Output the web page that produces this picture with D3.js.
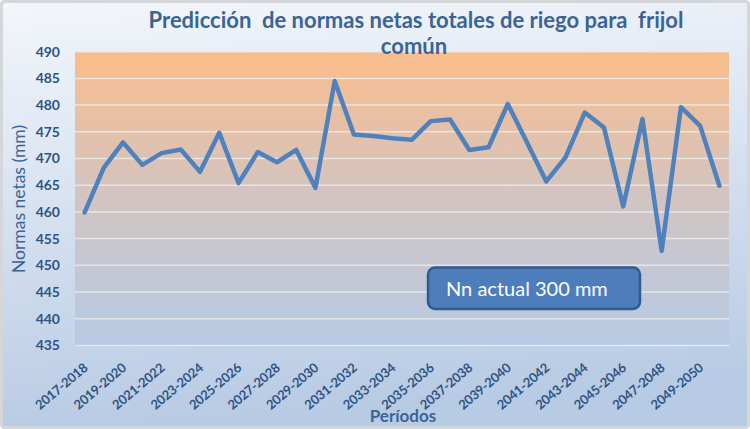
<!DOCTYPE html>
<html>
<head>
<meta charset="utf-8">
<script src="https://cdn.jsdelivr.net/npm/d3@7"></script>
<style>
  html, body { margin: 0; padding: 0; background: #ffffff; }
  svg { display: block; }
  text { font-family: Lato, "Open Sans", sans-serif; }
</style>
</head>
<body>
<script>
// periods (category axis), every second one is labelled
const periods = [
  "2017-2018", "2018-2019", "2019-2020", "2020-2021", "2021-2022", "2022-2023",
  "2023-2024", "2024-2025", "2025-2026", "2026-2027", "2027-2028", "2028-2029",
  "2029-2030", "2030-2031", "2031-2032", "2032-2033", "2033-2034", "2034-2035",
  "2035-2036", "2036-2037", "2037-2038", "2038-2039", "2039-2040", "2040-2041",
  "2041-2042", "2042-2043", "2043-2044", "2044-2045", "2045-2046", "2046-2047",
  "2047-2048", "2048-2049", "2049-2050", "2050-2051"
];

// normas netas (mm)
const normas = [
  459.9, 468.3, 473.0, 468.8, 471.0, 471.7, 467.5, 474.8, 465.4, 471.2,
  469.3, 471.6, 464.5, 484.5, 474.5, 474.2, 473.8, 473.5, 477.0, 477.3,
  471.6, 472.1, 480.2, 473.0, 465.7, 470.2, 478.6, 475.8, 461.0, 477.4,
  452.7, 479.6, 476.1, 464.9
];

const yTicks = [435, 440, 445, 450, 455, 460, 465, 470, 475, 480, 485, 490];

const W = 750, H = 429;
const plot = {left: 75, right: 729, top: 51.7, bottom: 345.4};
const textColor = "#2f5383";

const svg = d3.select("body").append("svg")
    .attr("width", W)
    .attr("height", H);

const defs = svg.append("defs");

const outerGrad = defs.append("linearGradient")
    .attr("id", "outerGrad")
    .attr("x1", 0).attr("y1", 0).attr("x2", 0.15).attr("y2", 1);
outerGrad.append("stop").attr("offset", "0%").attr("stop-color", "#f3f6fb");
outerGrad.append("stop").attr("offset", "45%").attr("stop-color", "#d9e3f1");
outerGrad.append("stop").attr("offset", "100%").attr("stop-color", "#b8cbe4");

const plotGrad = defs.append("linearGradient")
    .attr("id", "plotGrad")
    .attr("x1", 0).attr("y1", 0).attr("x2", 0).attr("y2", 1);
plotGrad.append("stop").attr("offset", "0%").attr("stop-color", "#f9bd8c");
plotGrad.append("stop").attr("offset", "50%").attr("stop-color", "#d2c4c2");
plotGrad.append("stop").attr("offset", "100%").attr("stop-color", "#b6cae4");

// chart area
svg.append("rect")
    .attr("x", 1.5).attr("y", 1.5)
    .attr("width", W - 3).attr("height", H - 3)
    .attr("rx", 3)
    .attr("fill", "url(#outerGrad)")
    .attr("stroke", "#d4d6da")
    .attr("stroke-width", 3);

const x = d3.scaleBand()
    .domain(periods)
    .range([plot.left, plot.right]);

const y = d3.scaleLinear()
    .domain([435, 490])
    .range([plot.bottom, plot.top]);

svg.append("rect")
    .attr("x", plot.left)
    .attr("y", plot.top)
    .attr("width", plot.right - plot.left)
    .attr("height", plot.bottom - plot.top)
    .attr("fill", "url(#plotGrad)");

// gridlines
svg.append("g")
    .selectAll("line")
    .data(yTicks)
    .join("line")
    .attr("x1", plot.left)
    .attr("x2", plot.right)
    .attr("y1", d => y(d))
    .attr("y2", d => y(d))
    .attr("stroke", "#ebebeb")
    .attr("stroke-opacity", 0.85)
    .attr("stroke-width", 1.5);

// y axis
const yAxis = svg.append("g")
    .attr("transform", `translate(${plot.left},0)`)
    .call(d3.axisLeft(y).tickValues(yTicks).tickSize(0).tickPadding(15));
yAxis.select(".domain").remove();
yAxis.selectAll("text")
    .attr("fill", textColor)
    .attr("font-size", 14)
    .attr("font-weight", "bold")
    .attr("font-family", "Lato, sans-serif");

// x axis
const xAxis = svg.append("g")
    .attr("transform", `translate(0,${plot.bottom})`)
    .call(d3.axisBottom(x)
        .tickValues(periods.filter((d, i) => i % 2 === 0))
        .tickSize(0));
xAxis.select(".domain").remove();
xAxis.selectAll("text")
    .attr("fill", textColor)
    .attr("font-size", 13)
    .attr("font-weight", "bold")
    .attr("letter-spacing", -0.2)
    .attr("font-family", "Lato, sans-serif")
    .attr("text-anchor", "end")
    .attr("dy", 0)
    .attr("y", 0)
    .attr("transform", "translate(4,24) rotate(-40)");

// series line
const line = d3.line()
    .x((d, i) => x(periods[i]) + x.bandwidth() / 2)
    .y(d => y(d));

svg.append("path")
    .datum(normas)
    .attr("fill", "none")
    .attr("stroke", "#4f81bd")
    .attr("stroke-width", 4.5)
    .attr("stroke-linejoin", "round")
    .attr("stroke-linecap", "round")
    .attr("d", line);

// title
const title = svg.append("text")
    .attr("x", 416)
    .attr("text-anchor", "middle")
    .attr("fill", "#3b6495")
    .attr("font-size", 22)
    .attr("font-weight", "bold");
title.append("tspan").attr("x", 416).attr("y", 28)
    .attr("xml:space", "preserve")
    .text("Predicción  de normas netas totales de riego para  frijol");
title.append("tspan").attr("x", 414).attr("y", 54).text("común");

// axis titles
svg.append("text")
    .attr("transform", "translate(25,199) rotate(-90)")
    .attr("text-anchor", "middle")
    .attr("fill", "#3b6495")
    .attr("font-size", 17.5)
    .text("Normas netas (mm)");

svg.append("text")
    .attr("x", 403)
    .attr("y", 422)
    .attr("text-anchor", "middle")
    .attr("fill", "#3b6495")
    .attr("font-size", 17)
    .attr("font-weight", "bold")
    .text("Períodos");

// annotation box
svg.append("rect")
    .attr("x", 428)
    .attr("y", 267.5)
    .attr("width", 212)
    .attr("height", 41.5)
    .attr("rx", 7)
    .attr("fill", "#4d7ebb")
    .attr("stroke", "#2f5b8d")
    .attr("stroke-width", 2.5);

svg.append("text")
    .attr("x", 446)
    .attr("y", 296)
    .attr("fill", "#ffffff")
    .attr("font-size", 20)
    .text("Nn actual 300 mm");
</script>
</body>
</html>
